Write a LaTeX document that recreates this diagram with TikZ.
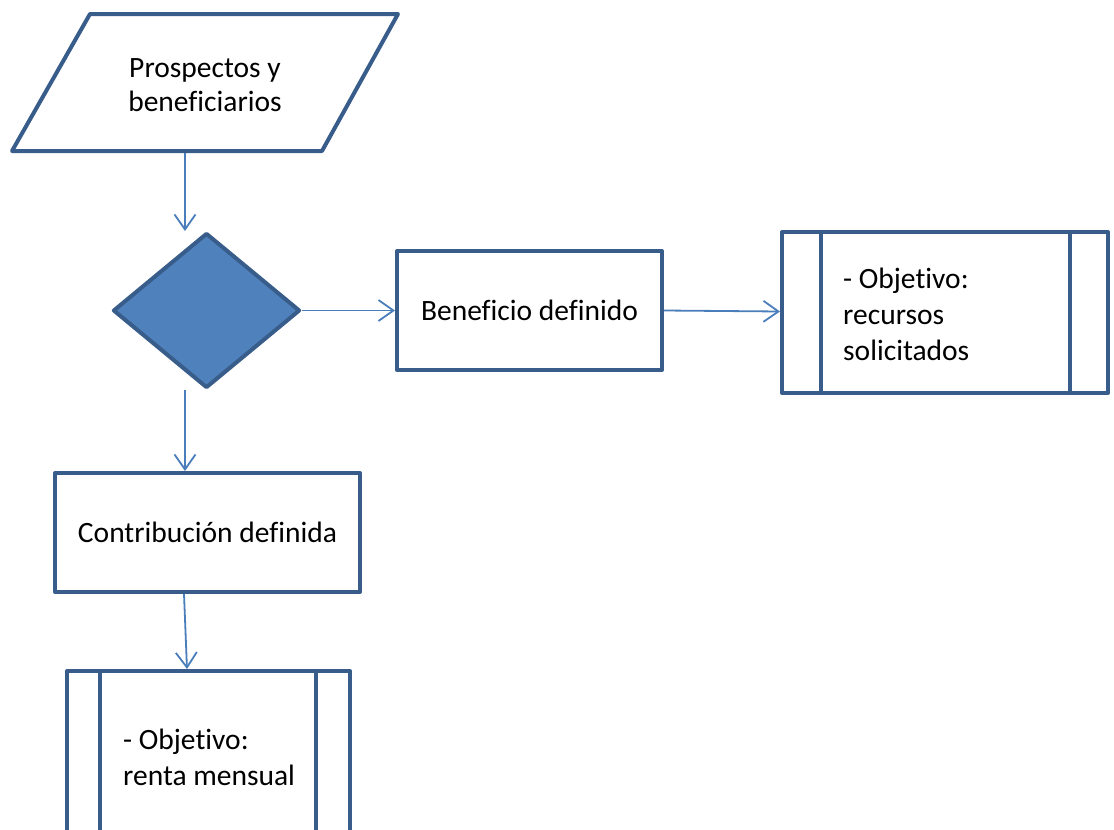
\documentclass[tikz,border=0pt]{standalone}
\usepackage{fontspec}
\setmainfont[Ligatures=NoCommon]{Carlito}
\usetikzlibrary{shapes.geometric,arrows.meta}
\definecolor{bord}{HTML}{385D8A}
\definecolor{dfill}{HTML}{4F81BD}
\definecolor{conn}{HTML}{4A7EBB}
\begin{document}
\begin{tikzpicture}[x=1pt,y=-1pt,
  box/.style={draw=bord,line width=4pt,fill=white,inner sep=0pt,line join=round},
  arr/.style={draw=conn,line width=1.8pt,-{Straight Barb[length=15pt,width=21pt,line width=1.8pt]}},
  lbl/.style={font=\fontsize{29.5}{36}\selectfont,align=left,inner sep=0pt},
  bar/.style={draw=bord,line width=4pt}]
\useasboundingbox (0,0) rectangle (1114,830);
\coordinate (x185) at (185,0);
% input (parallelogram)
\draw[box] (90,14) -- (398,14) -- (322,151) -- (12,151) -- cycle;
\node[inner sep=0pt,outer sep=2pt,minimum width=232pt,minimum height=131pt,
      font=\fontsize{29.5}{34}\selectfont,align=center] (src) at (205,85.5) {Prospectos y\\beneficiarios};
% shapes
\node[box,diamond,fill=dfill,minimum width=187pt,minimum height=155pt] (dec) at (206.5,310.5) {};
\node[box,rectangle,minimum width=265pt,minimum height=119pt,font=\fontsize{29.5}{35}\selectfont] (bd) at (529.5,310.5) {Beneficio definido};
\node[box,rectangle,minimum width=326pt,minimum height=161pt] (pp1) at (945,312.5) {};
\draw[bar] ([xshift=41pt]pp1.north west) -- ([xshift=41pt]pp1.south west);
\draw[bar] ([xshift=-40pt]pp1.north east) -- ([xshift=-40pt]pp1.south east);
\node[lbl,anchor=west] (t1) at (843,314) {- Objetivo:\\recursos\\solicitados};
\node[box,rectangle,minimum width=305pt,minimum height=119pt,font=\fontsize{29.5}{35}\selectfont] (cb) at (207.5,532.5) {Contribución definida};
\node[box,rectangle,minimum width=283pt,minimum height=189pt] (pp2) at (208.5,765.5) {};
\draw[bar] ([xshift=35pt]pp2.north west) -- ([xshift=35pt]pp2.south west);
\draw[bar] ([xshift=-36pt]pp2.north east) -- ([xshift=-36pt]pp2.south east);
\node[lbl,anchor=west] (t2) at (123,757) {- Objetivo:\\renta mensual};
% connectors
\draw[arr] (src.south -| x185) -- (dec.north -| x185);
\draw[arr] (dec.east) -- (bd.west);
\draw[arr] (bd.east) -- ([yshift=1pt]pp1.west);
\draw[arr] (dec.south -| x185) -- (cb.north -| x185);
\draw[arr] ([xshift=-23.5pt]cb.south) -- ([xshift=-21.5pt]pp2.north);
\end{tikzpicture}
\end{document}
